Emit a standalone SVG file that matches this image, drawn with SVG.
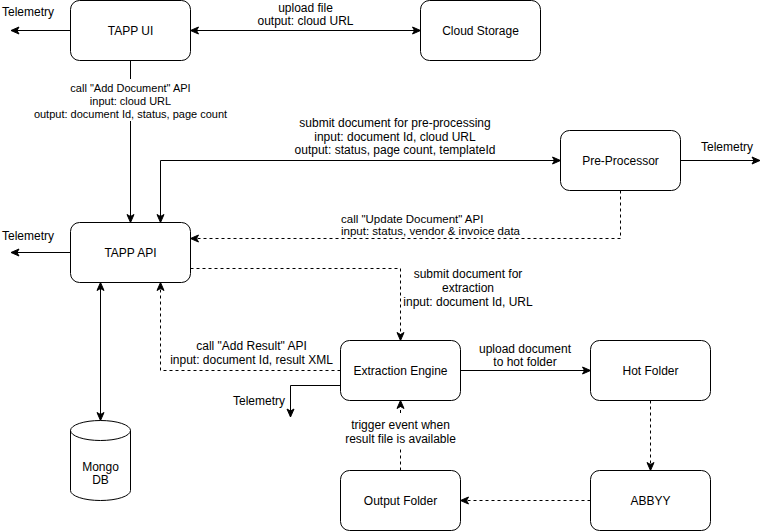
<svg xmlns="http://www.w3.org/2000/svg" width="770" height="531" viewBox="0 0 770 531">
<style>
.box{fill:#fff;stroke:#000;stroke-width:1}
.n{font-family:"Liberation Sans",Arial,sans-serif;font-size:12px;fill:#000;text-anchor:middle}
.l{font-family:"Liberation Sans",Arial,sans-serif;font-size:12px;fill:#000;text-anchor:middle}
.s{font-size:11px}
.u{font-size:11.5px}
.ls{text-anchor:start}
.e{fill:none;stroke:#000;stroke-width:1}
.d{stroke-dasharray:3 3}
.m{marker-end:url(#arr)}
.ms{marker-start:url(#arr)}
</style>
<defs>
<marker id="arr" viewBox="0 0 10 10" refX="9" refY="5" markerWidth="10" markerHeight="10" markerUnits="userSpaceOnUse" orient="auto-start-reverse">
<path d="M1,1.5 L9,5 L1,8.5 L3,5 Z" fill="#000" stroke="#000" stroke-width="1" stroke-linejoin="miter"/>
</marker>
</defs>
<rect width="770" height="531" fill="#fff"/>
<g id="connectors">
<path class="e m ms" d="M190.5 30.5 H420.5"/>
<path class="e m" d="M70.5 30.5 H11"/>
<path class="e m" d="M130.5 60.5 V79 M130.5 121 V222.5"/>
<path class="e m ms" d="M160.5 222.5 V160.5 H560.5"/>
<path class="e m" d="M680.5 160.5 H760"/>
<path class="e d m" d="M620.5 190.5 V238.5 H190.5"/>
<path class="e m" d="M70.5 252.5 H11"/>
<path class="e d m" d="M190.5 268.5 H400.5 V340.5"/>
<path class="e d m" d="M340.5 370.5 H160.5 V282.5"/>
<path class="e m ms" d="M100.5 282.5 V420.5"/>
<path class="e m" d="M340.5 385.5 H290.5 V417"/>
<path class="e m" d="M460.5 370.5 H590.5"/>
<path class="e d m" d="M650.5 400.5 V470.5"/>
<path class="e d m" d="M590.5 500.5 H460.5"/>
<path class="e d m" d="M400.5 470.5 V448 M400.5 413 V400.5"/>
<text class="l" x="305.5" y="12">upload file</text>
<text class="l" x="305.5" y="25">output: cloud URL</text>
<text class="l" x="28" y="16">Telemetry</text>
<text class="l s" x="130.5" y="92">call "Add Document" API</text>
<text class="l s" x="130.5" y="105">input: cloud URL</text>
<text class="l s" x="130.5" y="118">output: document Id, status, page count</text>
<text class="l" x="395" y="127">submit document for pre-processing</text>
<text class="l" x="395" y="140.5">input: document Id, cloud URL</text>
<text class="l" x="395" y="154">output: status, page count, templateId</text>
<text class="l" x="727" y="150.5">Telemetry</text>
<text class="l u ls" x="341" y="222.5">call "Update Document" API</text>
<text class="l u ls" x="341" y="235">input: status, vendor &amp; invoice data</text>
<text class="l" x="28" y="239.5">Telemetry</text>
<text class="l" x="468" y="278">submit document for</text>
<text class="l" x="468" y="292">extraction</text>
<text class="l" x="468" y="306">input: document Id, URL</text>
<text class="l" x="251.5" y="349.5">call "Add Result" API</text>
<text class="l" x="251.5" y="363.5">input: document Id, result XML</text>
<text class="l" x="525" y="352.5">upload document</text>
<text class="l" x="525" y="366">to hot folder</text>
<text class="l" x="259" y="404.5">Telemetry</text>
<text class="l" x="400.5" y="429">trigger event when</text>
<text class="l" x="400.5" y="443">result file is available</text>
</g>
<g id="tapp-ui"><rect class="box" x="70.5" y="0.5" width="120" height="60" rx="9"/><text class="n" x="130.5" y="34.8">TAPP UI</text></g>
<g id="cloud-storage"><rect class="box" x="420.5" y="0.5" width="120" height="60" rx="9"/><text class="n" x="480.5" y="34.8">Cloud Storage</text></g>
<g id="pre-processor"><rect class="box" x="560.5" y="130.5" width="120" height="60" rx="9"/><text class="n" x="620.5" y="164.8">Pre-Processor</text></g>
<g id="tapp-api"><rect class="box" x="70.5" y="222.5" width="120" height="60" rx="9"/><text class="n" x="130.5" y="256.8">TAPP API</text></g>
<g id="extraction-engine"><rect class="box" x="340.5" y="340.5" width="120" height="60" rx="9"/><text class="n" x="400.5" y="374.8">Extraction Engine</text></g>
<g id="hot-folder"><rect class="box" x="590.5" y="340.5" width="120" height="60" rx="9"/><text class="n" x="650.5" y="374.8">Hot Folder</text></g>
<g id="output-folder"><rect class="box" x="340.5" y="470.5" width="120" height="60" rx="9"/><text class="n" x="400.5" y="504.8">Output Folder</text></g>
<g id="abbyy"><rect class="box" x="590.5" y="470.5" width="120" height="60" rx="9"/><text class="n" x="650.5" y="504.8">ABBYY</text></g>
<g id="mongo-db">
<path class="box" d="M70.5 430.5 V490.5 A30 10 0 0 0 130.5 490.5 V430.5 A30 10 0 0 0 70.5 430.5 Z"/>
<path class="e" d="M70.5 430.5 A30 10 0 0 0 130.5 430.5"/>
<text class="n" x="100.5" y="471">Mongo</text>
<text class="n" x="100.5" y="484">DB</text>
</g>
</svg>
